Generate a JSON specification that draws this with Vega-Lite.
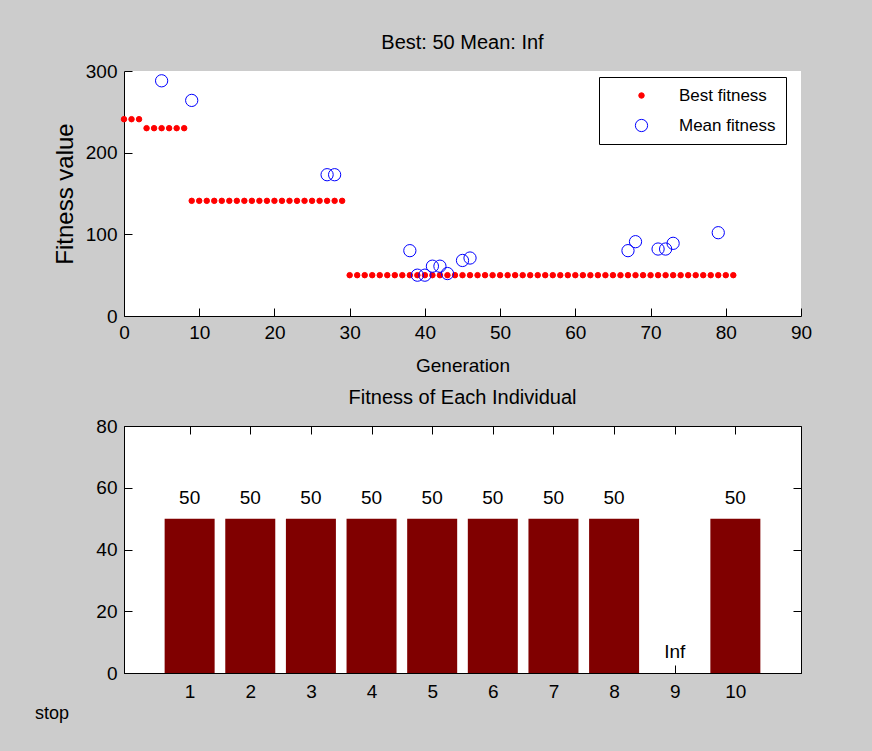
{
  "$schema": "https://vega.github.io/schema/vega-lite/v6.json",
  "background": "#cccccc",
  "padding": {"left": 35, "top": 33, "right": 60, "bottom": 31},
  "bounds": "flush",
  "spacing": 110,
  "title": {"text": "stop", "orient": "bottom", "anchor": "start", "frame": "group", "dx": -89, "offset": 3, "font": "Liberation Sans", "fontSize": 18, "fontWeight": "normal", "color": "black"},
  "config": {
    "font": "Liberation Sans",
    "title": {"font": "Liberation Sans", "fontSize": 20, "fontWeight": "normal", "color": "black"},
    "axis": {
      "labelFont": "Liberation Sans", "labelFontSize": 19, "labelColor": "black",
      "titleFont": "Liberation Sans", "titleFontSize": 19, "titleFontWeight": "normal", "titleColor": "black",
      "domainColor": "black", "tickColor": "black", "grid": false, "tickSize": -8, "labelPadding": 15
    }
  },
  "datasets": {
    "fitness": [
      {"generation": 0, "fitness": 241, "series": "Best fitness"},
      {"generation": 1, "fitness": 241, "series": "Best fitness"},
      {"generation": 2, "fitness": 241, "series": "Best fitness"},
      {"generation": 3, "fitness": 230, "series": "Best fitness"},
      {"generation": 4, "fitness": 230, "series": "Best fitness"},
      {"generation": 5, "fitness": 230, "series": "Best fitness"},
      {"generation": 6, "fitness": 230, "series": "Best fitness"},
      {"generation": 7, "fitness": 230, "series": "Best fitness"},
      {"generation": 8, "fitness": 230, "series": "Best fitness"},
      {"generation": 9, "fitness": 141, "series": "Best fitness"},
      {"generation": 10, "fitness": 141, "series": "Best fitness"},
      {"generation": 11, "fitness": 141, "series": "Best fitness"},
      {"generation": 12, "fitness": 141, "series": "Best fitness"},
      {"generation": 13, "fitness": 141, "series": "Best fitness"},
      {"generation": 14, "fitness": 141, "series": "Best fitness"},
      {"generation": 15, "fitness": 141, "series": "Best fitness"},
      {"generation": 16, "fitness": 141, "series": "Best fitness"},
      {"generation": 17, "fitness": 141, "series": "Best fitness"},
      {"generation": 18, "fitness": 141, "series": "Best fitness"},
      {"generation": 19, "fitness": 141, "series": "Best fitness"},
      {"generation": 20, "fitness": 141, "series": "Best fitness"},
      {"generation": 21, "fitness": 141, "series": "Best fitness"},
      {"generation": 22, "fitness": 141, "series": "Best fitness"},
      {"generation": 23, "fitness": 141, "series": "Best fitness"},
      {"generation": 24, "fitness": 141, "series": "Best fitness"},
      {"generation": 25, "fitness": 141, "series": "Best fitness"},
      {"generation": 26, "fitness": 141, "series": "Best fitness"},
      {"generation": 27, "fitness": 141, "series": "Best fitness"},
      {"generation": 28, "fitness": 141, "series": "Best fitness"},
      {"generation": 29, "fitness": 141, "series": "Best fitness"},
      {"generation": 30, "fitness": 50, "series": "Best fitness"},
      {"generation": 31, "fitness": 50, "series": "Best fitness"},
      {"generation": 32, "fitness": 50, "series": "Best fitness"},
      {"generation": 33, "fitness": 50, "series": "Best fitness"},
      {"generation": 34, "fitness": 50, "series": "Best fitness"},
      {"generation": 35, "fitness": 50, "series": "Best fitness"},
      {"generation": 36, "fitness": 50, "series": "Best fitness"},
      {"generation": 37, "fitness": 50, "series": "Best fitness"},
      {"generation": 38, "fitness": 50, "series": "Best fitness"},
      {"generation": 39, "fitness": 50, "series": "Best fitness"},
      {"generation": 40, "fitness": 50, "series": "Best fitness"},
      {"generation": 41, "fitness": 50, "series": "Best fitness"},
      {"generation": 42, "fitness": 50, "series": "Best fitness"},
      {"generation": 43, "fitness": 50, "series": "Best fitness"},
      {"generation": 44, "fitness": 50, "series": "Best fitness"},
      {"generation": 45, "fitness": 50, "series": "Best fitness"},
      {"generation": 46, "fitness": 50, "series": "Best fitness"},
      {"generation": 47, "fitness": 50, "series": "Best fitness"},
      {"generation": 48, "fitness": 50, "series": "Best fitness"},
      {"generation": 49, "fitness": 50, "series": "Best fitness"},
      {"generation": 50, "fitness": 50, "series": "Best fitness"},
      {"generation": 51, "fitness": 50, "series": "Best fitness"},
      {"generation": 52, "fitness": 50, "series": "Best fitness"},
      {"generation": 53, "fitness": 50, "series": "Best fitness"},
      {"generation": 54, "fitness": 50, "series": "Best fitness"},
      {"generation": 55, "fitness": 50, "series": "Best fitness"},
      {"generation": 56, "fitness": 50, "series": "Best fitness"},
      {"generation": 57, "fitness": 50, "series": "Best fitness"},
      {"generation": 58, "fitness": 50, "series": "Best fitness"},
      {"generation": 59, "fitness": 50, "series": "Best fitness"},
      {"generation": 60, "fitness": 50, "series": "Best fitness"},
      {"generation": 61, "fitness": 50, "series": "Best fitness"},
      {"generation": 62, "fitness": 50, "series": "Best fitness"},
      {"generation": 63, "fitness": 50, "series": "Best fitness"},
      {"generation": 64, "fitness": 50, "series": "Best fitness"},
      {"generation": 65, "fitness": 50, "series": "Best fitness"},
      {"generation": 66, "fitness": 50, "series": "Best fitness"},
      {"generation": 67, "fitness": 50, "series": "Best fitness"},
      {"generation": 68, "fitness": 50, "series": "Best fitness"},
      {"generation": 69, "fitness": 50, "series": "Best fitness"},
      {"generation": 70, "fitness": 50, "series": "Best fitness"},
      {"generation": 71, "fitness": 50, "series": "Best fitness"},
      {"generation": 72, "fitness": 50, "series": "Best fitness"},
      {"generation": 73, "fitness": 50, "series": "Best fitness"},
      {"generation": 74, "fitness": 50, "series": "Best fitness"},
      {"generation": 75, "fitness": 50, "series": "Best fitness"},
      {"generation": 76, "fitness": 50, "series": "Best fitness"},
      {"generation": 77, "fitness": 50, "series": "Best fitness"},
      {"generation": 78, "fitness": 50, "series": "Best fitness"},
      {"generation": 79, "fitness": 50, "series": "Best fitness"},
      {"generation": 80, "fitness": 50, "series": "Best fitness"},
      {"generation": 81, "fitness": 50, "series": "Best fitness"},
      {"generation": 5, "fitness": 288, "series": "Mean fitness"},
      {"generation": 9, "fitness": 264, "series": "Mean fitness"},
      {"generation": 27, "fitness": 173, "series": "Mean fitness"},
      {"generation": 28, "fitness": 173, "series": "Mean fitness"},
      {"generation": 38, "fitness": 80, "series": "Mean fitness"},
      {"generation": 39, "fitness": 50, "series": "Mean fitness"},
      {"generation": 40, "fitness": 50, "series": "Mean fitness"},
      {"generation": 41, "fitness": 61, "series": "Mean fitness"},
      {"generation": 42, "fitness": 61, "series": "Mean fitness"},
      {"generation": 43, "fitness": 52, "series": "Mean fitness"},
      {"generation": 45, "fitness": 68, "series": "Mean fitness"},
      {"generation": 46, "fitness": 71, "series": "Mean fitness"},
      {"generation": 67, "fitness": 80, "series": "Mean fitness"},
      {"generation": 68, "fitness": 91, "series": "Mean fitness"},
      {"generation": 71, "fitness": 82, "series": "Mean fitness"},
      {"generation": 72, "fitness": 82, "series": "Mean fitness"},
      {"generation": 73, "fitness": 89, "series": "Mean fitness"},
      {"generation": 79, "fitness": 102, "series": "Mean fitness"}
    ],
    "individuals": [
      {"individual": 1, "fitness": 50, "label": "50"},
      {"individual": 2, "fitness": 50, "label": "50"},
      {"individual": 3, "fitness": 50, "label": "50"},
      {"individual": 4, "fitness": 50, "label": "50"},
      {"individual": 5, "fitness": 50, "label": "50"},
      {"individual": 6, "fitness": 50, "label": "50"},
      {"individual": 7, "fitness": 50, "label": "50"},
      {"individual": 8, "fitness": 50, "label": "50"},
      {"individual": 9, "fitness": null, "label": "Inf"},
      {"individual": 10, "fitness": 50, "label": "50"}
    ]
  },
  "vconcat": [
    {
      "width": 677,
      "height": 245,
      "view": {"fill": "white", "stroke": null},
      "title": {"text": "Best: 50 Mean: Inf", "offset": 9},
      "data": {"name": "fitness"},
      "mark": {"type": "point", "shape": "circle", "opacity": 1, "strokeWidth": 1},
      "encoding": {
        "x": {"field": "generation", "type": "quantitative", "scale": {"domain": [0, 90], "nice": false},
              "axis": {"values": [0, 10, 20, 30, 40, 50, 60, 70, 80, 90], "title": "Generation", "labelFlush": false, "titlePadding": 14}},
        "y": {"field": "fitness", "type": "quantitative", "scale": {"domain": [0, 300], "nice": false},
              "axis": {"values": [0, 100, 200, 300], "title": "Fitness value", "titleFontSize": 24, "titlePadding": 8}},
        "fill": {"field": "series", "type": "nominal",
                 "scale": {"domain": ["Best fitness", "Mean fitness"], "range": ["#ff0000", "transparent"]},
                 "legend": {"orient": "none", "legendX": 475, "legendY": 6, "title": null, "strokeColor": "black", "fillColor": "white", "padding": 10, "symbolOffset": 24, "labelOffset": 29, "rowPadding": 12, "labelFont": "Liberation Sans", "labelFontSize": 17, "labelColor": "black", "labelLimit": 200, "symbolType": "circle", "symbolStrokeWidth": 1}},
        "stroke": {"field": "series", "type": "nominal",
                   "scale": {"domain": ["Best fitness", "Mean fitness"], "range": ["#ff0000", "#0000ff"]},
                   "legend": {"orient": "none", "legendX": 475, "legendY": 6, "title": null, "strokeColor": "black", "fillColor": "white", "padding": 10, "symbolOffset": 24, "labelOffset": 29, "rowPadding": 12, "labelFont": "Liberation Sans", "labelFontSize": 17, "labelColor": "black", "labelLimit": 200, "symbolType": "circle", "symbolStrokeWidth": 1}},
        "size": {"field": "series", "type": "nominal",
                 "scale": {"type": "ordinal", "domain": ["Best fitness", "Mean fitness"], "range": [30, 150]},
                 "legend": {"orient": "none", "legendX": 475, "legendY": 6, "title": null, "strokeColor": "black", "fillColor": "white", "padding": 10, "symbolOffset": 24, "labelOffset": 29, "rowPadding": 12, "labelFont": "Liberation Sans", "labelFontSize": 17, "labelColor": "black", "labelLimit": 200, "symbolType": "circle", "symbolStrokeWidth": 1}}
      }
    },
    {
      "width": 677,
      "height": 247,
      "view": {"fill": "white", "stroke": "black"},
      "title": {"text": "Fitness of Each Individual", "offset": 9},
      "data": {"name": "individuals"},
      "layer": [
        {
          "mark": {"type": "bar", "size": 50, "color": "#800000", "orient": "vertical"},
          "encoding": {
            "x": {"field": "individual", "type": "quantitative", "scale": {"domain": [0, 11], "nice": false},
                  "axis": {"values": [1, 2, 3, 4, 5, 6, 7, 8, 9, 10], "title": null, "labelFlush": false, "labelPadding": 17}},
            "y": {"field": "fitness", "type": "quantitative", "scale": {"domain": [0, 80], "nice": false},
                  "axis": {"values": [0, 20, 40, 60, 80], "title": null}}
          }
        },
        {
          "mark": {"type": "text", "dy": -21, "fontSize": 19, "font": "Liberation Sans", "color": "black", "invalid": "show"},
          "encoding": {
            "x": {"field": "individual", "type": "quantitative",
                  "axis": {"orient": "top", "labels": false, "title": null, "values": [1, 2, 3, 4, 5, 6, 7, 8, 9, 10], "domain": false}},
            "y": {"field": "fitness", "type": "quantitative",
                  "axis": {"orient": "right", "labels": false, "title": null, "values": [0, 20, 40, 60, 80], "domain": false}},
            "text": {"field": "label"}
          }
        }
      ],
      "resolve": {"axis": {"x": "independent", "y": "independent"}}
    }
  ]
}
